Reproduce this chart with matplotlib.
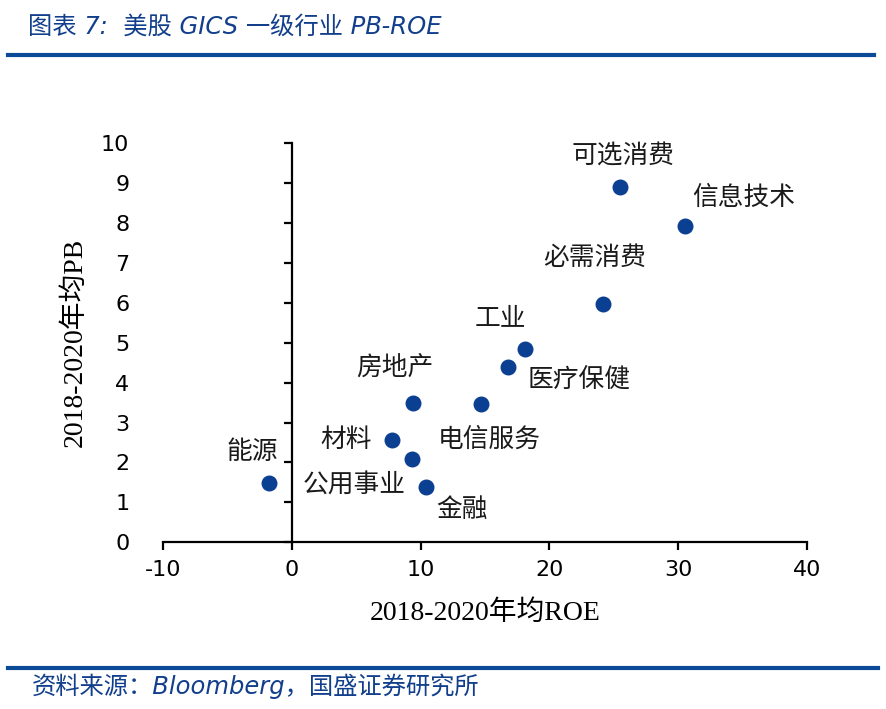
import matplotlib
matplotlib.use('Agg')
import matplotlib.pyplot as plt

plt.rcParams['axes.unicode_minus'] = False

# 2018-2020 average ROE / PB by GICS sector
sectors = ['可选消费', '信息技术', '必需消费', '工业', '医疗保健', '房地产',
           '电信服务', '材料', '公用事业', '金融', '能源']
roe = [25.45, 30.53, 24.13, 18.07, 16.81, 9.43, 14.71, 7.80, 9.30, 10.44, -1.80]
pb = [8.90, 7.93, 5.98, 4.85, 4.39, 3.48, 3.46, 2.56, 2.09, 1.39, 1.48]

x_ticks = [-10, 0, 10, 20, 30, 40]
y_ticks = [0, 1, 2, 3, 4, 5, 6, 7, 8, 9, 10]

# label offsets from the dots, in pixels
offsets = [(3, 31), (59, 28), (-8, 46), (-24, 31), (71, -14), (-18, 35),
           (8, -36), (-46, 0), (-57, -27), (36, -23), (-16, 31)]

blue = '#0B3F91'
cjk = ['Noto Sans CJK SC', 'DejaVu Sans']
serif_cjk = ['Liberation Serif', 'Noto Sans CJK SC']

fig = plt.figure(figsize=(8.86, 7.09), dpi=100)
ax = fig.add_axes([163/886, 1-542.3/709, 644/886, 399/709])

ax.scatter(roe, pb, s=110, color=blue, zorder=3)
for name, x, y, off in zip(sectors, roe, pb, offsets):
    ax.annotate(name, (x, y), xytext=off, textcoords='offset pixels',
                ha='center', va='center', fontsize=18.5, family=cjk, color='#1a1a1a')

ax.set_xlim(-10, 40)
ax.set_ylim(0, 10)
ax.set_xticks(x_ticks)
ax.set_yticks(y_ticks)

ax.spines['top'].set_visible(False)
ax.spines['right'].set_visible(False)
ax.spines['left'].set_position(('data', 0))
for sp in ['left', 'bottom']:
    ax.spines[sp].set_linewidth(1.6)
    ax.spines[sp].set_color('black')

ax.tick_params(axis='both', direction='out', length=6, width=1.6, labelsize=16)
ax.tick_params(axis='y', pad=111)
ax.tick_params(axis='x', pad=7)
for lab in ax.get_xticklabels() + ax.get_yticklabels():
    lab.set_family('DejaVu Sans')

ax.set_xlabel('2018-2020年均ROE', fontsize=20, family=serif_cjk, va='center')
ax.xaxis.set_label_coords(0.5, -0.177)
ax.set_ylabel('2018-2020年均PB', fontsize=20, family=serif_cjk, va='center')
ax.yaxis.set_label_coords(-88/644, 0.5)

# header and footer
fig.text(28/886, 1-27/709, '图表 7:  美股 GICS 一级行业 PB-ROE', ha='left', va='center',
         fontsize=17.5, style='italic', color='#123F8C', family=['DejaVu Sans', 'Noto Sans CJK SC'])
fig.add_artist(plt.Line2D([8/886, 874/886], [1-55/709, 1-55/709], color='#0B4A96', lw=3))
fig.add_artist(plt.Line2D([8/886, 878/886], [1-667.5/709, 1-667.5/709], color='#0B4A96', lw=3))
fig.text(32/886, 1-686/709, '资料来源：Bloomberg，国盛证券研究所', ha='left', va='center',
         fontsize=17.5, style='italic', color='#123F8C', family=['DejaVu Sans', 'Noto Sans CJK SC'])

fig.savefig('out.png', dpi=100)
